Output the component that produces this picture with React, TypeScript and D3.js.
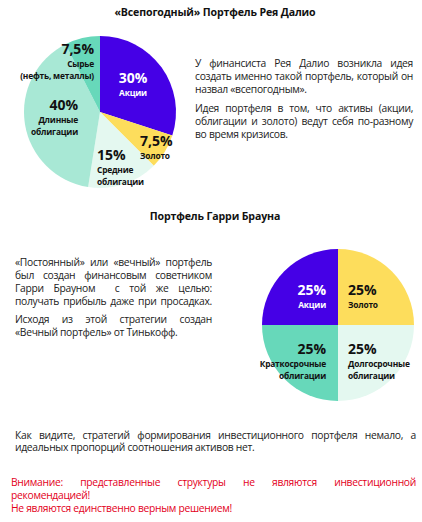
import React from "react";
import * as d3 from "d3";

// ---------- data ----------
const dalioLabels = ["Акции", "Золото", "Средние облигации", "Длинные облигации", "Сырье (нефть, металлы)"];
const dalioValues = [30, 7.5, 15, 40, 7.5];
const dalioPct = ["30%", "7,5%", "15%", "40%", "7,5%"];
const dalioNameLines = [["Акции"], ["Золото"], ["Средние", "облигации"], ["Длинные", "облигации"], ["Сырье", "(нефть, металлы)"]];

const brownLabels = ["Золото", "Долгосрочные облигации", "Краткосрочные облигации", "Акции"];
const brownValues = [25, 25, 25, 25];
const brownPct = ["25%", "25%", "25%", "25%"];
const brownNameLines = [["Золото"], ["Долгосрочные", "облигации"], ["Краткосрочные", "облигации"], ["Акции"]];

const title1 = "«Всепогодный» Портфель Рея Далио";
const title2 = "Портфель Гарри Брауна";

const para1 = [
  { t: "У финансиста Рея Далио возникла идея", j: true },
  { t: "создать именно такой портфель, который он", j: true },
  { t: "назвал «всепогодным».", j: false },
  { t: "Идея портфеля в том, что активы (акции,", j: true },
  { t: "облигации и золото) ведут себя по-разному", j: true },
  { t: "во время кризисов.", j: false },
];
const para2 = [
  { t: "«Постоянный» или «вечный» портфель", j: true },
  { t: "был создан финансовым советником", j: true },
  { t: "Гарри Брауном  с той же целью:", j: true },
  { t: "получать прибыль даже при просадках.", j: true },
  { t: "Исходя из этой стратегии создан", j: true },
  { t: "«Вечный портфель» от Тинькофф.", j: false },
];
const para3 = [
  { t: "Как видите, стратегий формирования инвестиционного портфеля немало, а", j: true },
  { t: "идеальных пропорций соотношения активов нет.", j: false },
];
const para4 = [
  { t: "Внимание: представленные структуры не являются инвестиционной", j: true },
  { t: "рекомендацией!", j: false },
  { t: "Не являются единственно верным решением!", j: false },
];

// ---------- styles / layout ----------
const PURPLE = "#4500e6";
const YELLOW = "#fddd5c";
const LIGHT = "#e4f8f0";
const MID = "#a8e8d5";
const DARK = "#67d8ba";
const dalioColors = [PURPLE, YELLOW, LIGHT, MID, DARK];
const brownColors = [YELLOW, LIGHT, DARK, PURPLE];
const dalioText = ["#fff", "#111", "#111", "#111", "#111"];
const brownText = ["#111", "#111", "#111", "#fff"];

// label offsets relative to pie centre: x, y of percentage, anchor
const dalioLabelPos = [
  { dx: 33, dy: -34, a: "middle" },
  { dx: 40, dy: 29, a: "start" },
  { dx: -3, dy: 43, a: "start" },
  { dx: -22, dy: -7, a: "end" },
  { dx: -6, dy: -63, a: "end" },
];
const brownLabelPos = [
  { dx: 10, dy: -35, a: "start" },
  { dx: 10, dy: 24, a: "start" },
  { dx: -12, dy: 24, a: "end" },
  { dx: -12, dy: -35, a: "end" },
];

const FONT = "'Open Sans', sans-serif";
const BODY_SIZE = 10.3;
const BODY_LS = -0.3;

let ctx: CanvasRenderingContext2D | null = null;
function measure(text: string, size: number, weight: number, ls: number) {
  if (!ctx) ctx = document.createElement("canvas").getContext("2d");
  if (!ctx) return text.length * size * 0.5;
  ctx.font = `${weight} ${size}px 'Open Sans'`;
  return ctx.measureText(text).width + ls * text.length;
}

function Para({ lines, x, width, y0, step, fill, extra }: any) {
  return (
    <g>
      {lines.map((l: any, i: number) => {
        const gaps = l.t.split(" ").length - 1;
        let ws = 0;
        if (l.j && gaps > 0) {
          const nat = measure(l.t, BODY_SIZE, 400, BODY_LS);
          ws = (width - nat) / gaps;
        }
        const y = y0 + i * step + (extra && i >= extra.after ? extra.gap : 0);
        return (
          <text
            key={i}
            x={x}
            y={y}
            fill={fill}
            fontFamily={FONT}
            fontSize={BODY_SIZE}
            letterSpacing={BODY_LS}
            style={{ whiteSpace: "pre", wordSpacing: `${ws}px` }}
          >
            {l.t}
          </text>
        );
      })}
    </g>
  );
}

function Pie({ cx, cy, r, values, colors, pct, names, pos, txt, keys }: any) {
  const arcs = d3.pie<number>().sort(null).value((d) => d)(values);
  const arc = d3.arc<d3.PieArcDatum<number>>().innerRadius(0).outerRadius(r);
  return (
    <g transform={`translate(${cx},${cy})`}>
      {arcs.map((a, i) => (
        <path key={keys[i]} d={arc(a) || ""} fill={colors[i]} />
      ))}
      {arcs.map((a, i) => {
        const p = pos[i];
        return (
          <g key={"l" + i} fill={txt[i]} fontFamily={FONT} fontWeight={700} textAnchor={p.a}>
            <text x={p.dx} y={p.dy + 5} fontSize={14}>
              {pct[i]}
            </text>
            {names[i].map((n: string, k: number) => (
              <text key={k} x={p.dx} y={p.dy + 18 + k * 11.5} fontSize={8.4} letterSpacing={-0.2}>
                {n}
              </text>
            ))}
          </g>
        );
      })}
    </g>
  );
}

export default function App() {
  return (
    <svg
      width={422}
      height={522}
      viewBox="0 0 422 522"
      style={{ position: "absolute", left: 0, top: 0, background: "#fff" }}
    >
      <rect width={422} height={522} fill="#fff" />
      <text x={215} y={16} textAnchor="middle" fontFamily={FONT} fontWeight={700} fontSize={10.6} letterSpacing={-0.15} fill="#111">
        {title1}
      </text>
      <Pie
        cx={100}
        cy={112}
        r={76}
        values={dalioValues}
        colors={dalioColors}
        pct={dalioPct}
        names={dalioNameLines}
        pos={dalioLabelPos}
        txt={dalioText}
        keys={dalioLabels}
      />
      <Para lines={para1} x={195} width={218} y0={67} step={13} fill="#222" extra={{ after: 3, gap: 5.5 }} />

      <text x={215} y={220} textAnchor="middle" fontFamily={FONT} fontWeight={700} fontSize={10.6} letterSpacing={-0.15} fill="#111">
        {title2}
      </text>
      <Para lines={para2} x={15} width={197} y0={265.5} step={13} fill="#222" extra={{ after: 4, gap: 5 }} />
      <Pie
        cx={338}
        cy={325}
        r={76}
        values={brownValues}
        colors={brownColors}
        pct={brownPct}
        names={brownNameLines}
        pos={brownLabelPos}
        txt={brownText}
        keys={brownLabels}
      />

      <Para lines={para3} x={15} width={401} y0={438.5} step={12.5} fill="#222" />
      <Para lines={para4} x={11} width={405} y0={485.5} step={13} fill="#e3001b" />
    </svg>
  );
}
